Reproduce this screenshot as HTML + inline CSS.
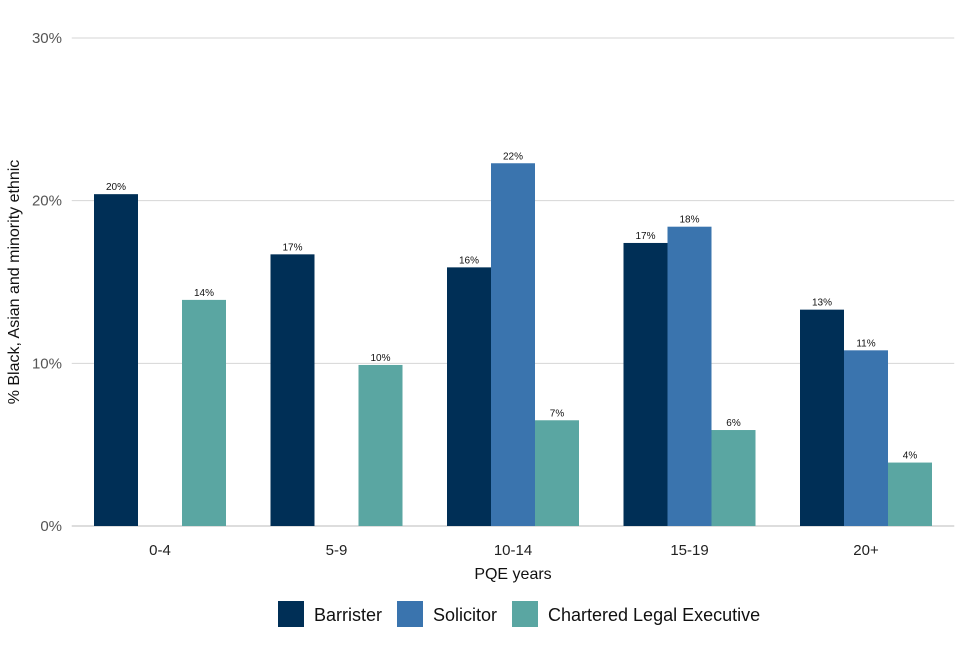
<!DOCTYPE html>
<html><head><meta charset="utf-8"><style>
body{margin:0;background:#fff;font-family:"Liberation Sans",sans-serif;}
</style></head><body>
<svg id="chart" width="960" height="640" font-family="Liberation Sans, sans-serif"></svg>
<script>
const categories=["0-4","5-9","10-14","15-19","20+"];
const barrister=[20.4,16.7,15.9,17.4,13.3];
const solicitor=[null,null,22.3,18.4,10.8];
const cle=[13.9,9.9,6.5,5.9,3.9];
const yTicks=[0,10,20,30];
const seriesNames=["Barrister","Solicitor","Chartered Legal Executive"];
const colors=["#002f56","#3a74ae","#5aa6a2"];
const series=[barrister,solicitor,cle];

const svg=document.getElementById('chart');
const NS="http://www.w3.org/2000/svg";
const x0=71.75,x1=954.25,yTop=38,yBot=526,yMax=30;
const step=(x1-x0)/categories.length;
const bw=44;
function y(v){return yBot-(v/yMax)*(yBot-yTop);}
function xc(i){return x0+step*(i+0.5);}
function el(tag,attrs,text){const e=document.createElementNS(NS,tag);for(const k in attrs)e.setAttribute(k,attrs[k]);if(text!==undefined)e.textContent=text;svg.appendChild(e);return e;}

yTicks.forEach(t=>{
  const g=el('line',{x1:x0,x2:x1,y1:y(t),y2:y(t),stroke:t===0?'#bbb':'#d6d6d6','stroke-width':1});
  
  
  const l=el('text',{x:62,y:y(t)+5,'text-anchor':'end','font-size':15,fill:'#555'},t+'%');
  
  
});
categories.forEach((c,i)=>{
  const l=el('text',{x:xc(i),y:555,'text-anchor':'middle','font-size':15,fill:'#222'},c);
  
  
  series.forEach((s,j)=>{
    const v=s[i];
    if(v===null||v===undefined)return;
    const bx=xc(i)-1.5*bw+j*bw;
    const r=el('rect',{x:bx,y:y(v),width:bw,height:yBot-y(v),fill:colors[j]});
    
    
    const t=el('text',{x:bx+bw/2,y:y(v)-4,'text-anchor':'middle','font-size':10,fill:'#111'},Math.round(v)+'%');
    
    
  });
});
const xt=el('text',{x:513,y:579,'text-anchor':'middle','font-size':16,fill:'#111'},'PQE years');


const yt=el('text',{x:0,y:0,transform:'translate(19,282) rotate(-90)','text-anchor':'middle','font-size':16,fill:'#111'},'% Black, Asian and minority ethnic');


const legX=[278,397,512];
seriesNames.forEach((n,j)=>{
  const r=el('rect',{x:legX[j],y:601,width:26,height:26,fill:colors[j]});
  
  
  const t=el('text',{x:legX[j]+36,y:621,'font-size':18,fill:'#111'},n);
  
  
});
</script>
</body></html>
